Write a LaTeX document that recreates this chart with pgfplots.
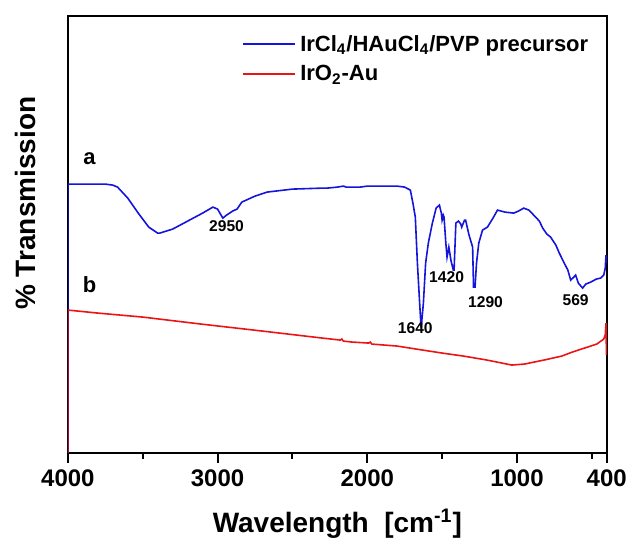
\documentclass[border=0pt]{standalone}
\usepackage{pgfplots}
\pgfplotsset{compat=1.18}
\usepackage{fontspec}
\setmainfont{Liberation Sans}

\definecolor{ftirblue}{RGB}{20,20,220}
\definecolor{ftirred}{RGB}{235,20,20}

\begin{document}
\begin{tikzpicture}
\begin{axis}[
    scale only axis,
    width=269.5pt, height=218.5pt,
    x dir=reverse,
    xmin=400, xmax=4000,
    ymin=0, ymax=437,
    xtick={4000,3000,2000,1000,400},
    minor xtick={3500,2500,1500,500},
    ytick=\empty,
    xtick pos=bottom,
    tick align=outside,
    major tick length=5pt,
    minor tick length=3pt,
    every tick/.style={black, line width=1pt},
    axis line style={line width=1pt},
    /pgf/number format/assume math mode=true,
    /pgf/number format/1000 sep={},
    xticklabel style={font=\fontsize{12}{14}\selectfont\bfseries},
    xlabel={Wavelength\ \ [cm\textsuperscript{-1}]},
    xlabel style={font=\fontsize{14}{16}\selectfont\bfseries, yshift=-4pt},
    ylabel={\% Transmission},
    ylabel style={font=\fontsize{14}{16}\selectfont\bfseries,
        at={(axis description cs:-0.047,0.572)}, anchor=south},
    legend style={draw=none, fill=none, at={(rel axis cs:0.985,0.975)},
        anchor=north east, font=\fontsize{11}{13}\selectfont\bfseries,
        row sep=1.6pt},
    legend cell align=left,
    legend image code/.code={\draw[#1, line width=0.9pt] (0pt,0.3pt) -- (26pt,0.3pt);},
]
\addplot[ftirblue, line width=0.8pt] coordinates {
(4000,0) (4000,269) (3900,269) (3750,269) (3700,268) (3668,266)
(3600,255) (3530,240) (3460,226) (3400,220) (3386,220) (3300,224)
(3200,232) (3100,240) (3031,246) (3000,244) (2965,235) (2940,238)
(2900,242) (2870,244) (2838,251) (2750,257) (2670,261) (2500,264)
(2300,265) (2268,265) (2200,266) (2160,267) (2140,266) (2048,266)
(2000,267) (1900,267) (1800,267) (1750,266) (1712,263) (1695,250)
(1679,236) (1665,190) (1650,150) (1640,125) (1625,150) (1610,190)
(1592,210) (1565,230) (1540,245) (1518,248) (1505,240) (1500,233)
(1492,238) (1487,236) (1475,210) (1467,196) (1455,206) (1440,192)
(1425,183) (1420,183) (1408,230) (1391,232) (1375,229) (1369,226)
(1350,233) (1343,233) (1320,218) (1296,206) (1290,166) (1280,166)
(1270,190) (1255,210) (1230,223) (1197,226) (1160,235) (1130,243)
(1080,241) (1022,240) (990,242) (955,245) (920,243) (888,238)
(850,232) (828,225) (800,219) (775,216) (740,208) (717,200)
(684,190) (660,183) (641,173) (620,176) (608,178) (590,170)
(561,165) (540,169) (507,171) (470,174) (440,175) (420,178)
(410,185) (405,198) (400,190)
};
\addlegendentry{IrCl\textsubscript{4}/HAuCl\textsubscript{4}/PVP precursor}
\addplot[ftirred, line width=0.8pt] coordinates {
(4000,0) (4000,143) (3800,140) (3500,136) (3110,129) (2700,122)
(2300,115) (2180,113) (2170,114) (2160,112) (2100,111) (1990,110)
(1980,111) (1970,109) (1800,107) (1630,103) (1500,100) (1357,97)
(1200,93) (1100,90) (1035,88) (950,89) (820,93) (700,97)
(630,101) (467,109) (420,114) (410,118) (405,130) (402,98) (400,110)
};
\addlegendentry{IrO\textsubscript{2}-Au}
\node[font=\fontsize{7.8}{9}\selectfont\bfseries] at (axis cs:2940,227) {2950};
\node[font=\fontsize{7.8}{9}\selectfont\bfseries] at (axis cs:1679,125) {1640};
\node[font=\fontsize{7.8}{9}\selectfont\bfseries] at (axis cs:1470,176) {1420};
\node[font=\fontsize{7.8}{9}\selectfont\bfseries] at (axis cs:1210,151) {1290};
\node[font=\fontsize{7.8}{9}\selectfont\bfseries] at (axis cs:608,153) {569};
\node[font=\fontsize{11}{13}\selectfont\bfseries] at (axis cs:3855,294) {a};
\node[font=\fontsize{11}{13}\selectfont\bfseries] at (axis cs:3855,168) {b};
\coordinate (bl) at (rel axis cs:-0.126,-0.204);
\coordinate (tr) at (rel axis cs:1.045,1.037);
\end{axis}
\pgfresetboundingbox
\path[use as bounding box] (bl) rectangle (tr);
\end{tikzpicture}
\end{document}
